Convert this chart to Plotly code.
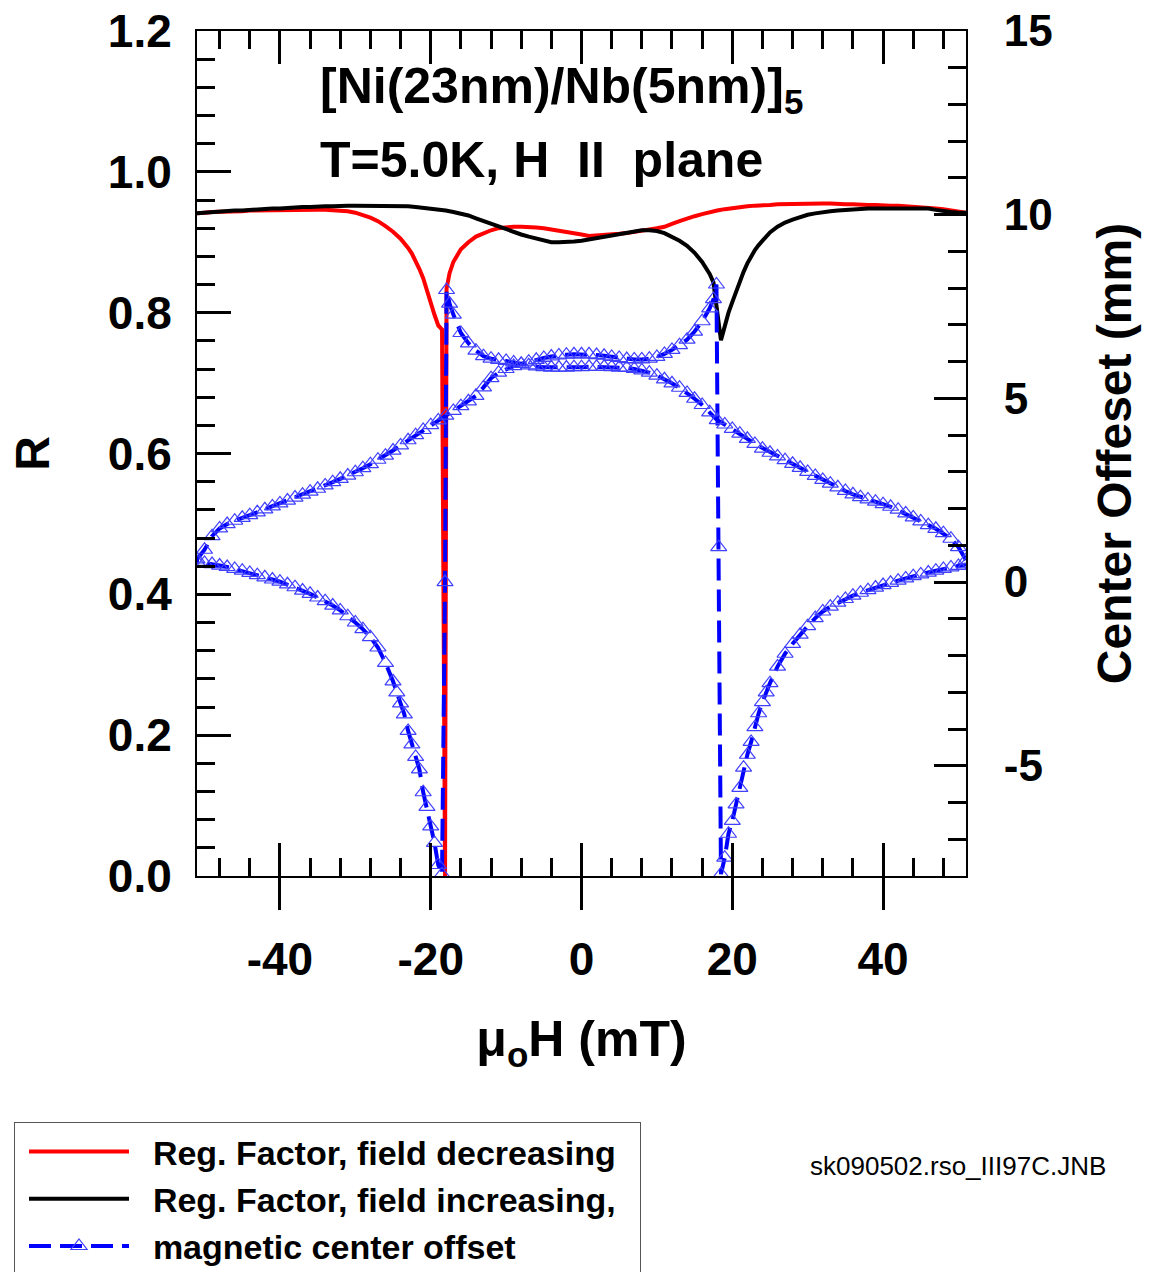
import plotly.graph_objects as go

# ---------------- data ----------------
# field decreasing branch (from +51 mT down to -51 mT)
H_dec = [51, 50, 49, 48, 47, 46, 45, 44, 43, 42, 41, 40, 39, 38, 37, 36, 35, 34, 33, 32,
         31, 30, 29, 28, 27, 26, 25, 24, 23, 22, 21, 20, 19, 18, 17, 16, 15, 14, 13, 12,
         11, 10, 9, 8, 7, 6, 5, 4, 3, 2, 1, 0, -1, -2, -3, -4, -5, -6, -7, -8,
         -9, -10, -11, -12, -13, -14, -15, -16, -17, -17.5, -17.9, -18.1, -18.5,
         -19, -19.5, -20, -20.5, -21, -21.5, -22, -22.5, -23, -23.5, -24, -24.5, -25,
         -26, -27, -28, -29, -30, -31, -32, -33, -34, -35, -36, -37, -38, -39, -40,
         -41, -42, -43, -44, -45, -46, -47, -48, -49, -50, -51]
R_dec = [0.942, 0.944, 0.946, 0.947, 0.948, 0.949, 0.950, 0.951, 0.951, 0.952, 0.952, 0.953,
         0.953, 0.953, 0.954, 0.954, 0.954, 0.955, 0.955, 0.955, 0.955, 0.955, 0.955, 0.955,
         0.954, 0.954, 0.953, 0.953, 0.952, 0.951, 0.950, 0.949, 0.947, 0.945, 0.943, 0.940,
         0.937, 0.934, 0.930, 0.926, 0.922, 0.920, 0.918, 0.916, 0.914, 0.913, 0.912, 0.911,
         0.910, 0.909, 0.909, 0.911, 0.913, 0.915, 0.917, 0.919, 0.920, 0.921, 0.922, 0.922,
         0.922, 0.921, 0.920, 0.917, 0.913, 0.908, 0.900, 0.890, 0.872, 0.856, 0.834, 0.000,
         0.776, 0.782, 0.797, 0.815, 0.833, 0.849, 0.862, 0.874, 0.884, 0.892, 0.899, 0.905,
         0.910, 0.915, 0.923, 0.930, 0.935, 0.939, 0.942, 0.944, 0.945, 0.946, 0.946, 0.946,
         0.946, 0.946, 0.946, 0.946, 0.945, 0.945, 0.945, 0.945, 0.945, 0.944, 0.944, 0.944,
         0.943, 0.943, 0.942, 0.941]
C_dec = [0.60, 0.95, 1.18, 1.33, 1.45, 1.55, 1.65, 1.76, 1.87, 1.97, 2.05, 2.12, 2.19, 2.25,
         2.31, 2.39, 2.48, 2.58, 2.68, 2.78, 2.89, 3.00, 3.11, 3.22, 3.32, 3.42, 3.52, 3.63,
         3.76, 3.90, 4.04, 4.17, 4.29, 4.41, 4.62, 4.82, 4.99, 5.15, 5.29, 5.41, 5.52, 5.62,
         5.70, 5.76, 5.80, 5.83, 5.84, 5.85, 5.86, 5.86, 5.86, 5.85, 5.85, 5.84, 5.84, 5.84,
         5.85, 5.87, 5.90, 5.94, 5.98, 6.02, 6.05, 6.08, 6.15, 6.30, 6.50, 6.78, 7.28, 7.58,
         7.95, 0.00, -7.95, -7.70, -7.10, -6.65, -6.12, -5.72, -5.10, -4.76, -4.42, -4.05,
         -3.60, -3.30, -3.00, -2.70, -2.20, -1.78, -1.50, -1.28, -1.10, -0.93, -0.77, -0.64,
         -0.52, -0.42, -0.32, -0.23, -0.14, -0.06, 0.01, 0.07, 0.13, 0.19, 0.25, 0.31, 0.36,
         0.41, 0.45, 0.49, 0.52, 0.55]

# field increasing branch (from -51 mT up to +51 mT)
H_inc = [-51, -50, -49, -48, -47, -46, -45, -44, -43, -42, -41, -40, -39, -38, -37, -36,
         -35, -34, -33, -32, -31, -30, -29, -28, -27, -26, -25, -24, -23, -22, -21, -20,
         -19, -18, -17, -16, -15, -14, -13, -12, -11, -10, -9, -8, -7, -6, -5, -4, -3, -2,
         -1, 0, 1, 2, 3, 4, 5, 6, 7, 8, 9, 10, 11, 12, 13, 14, 15, 16, 17, 17.5, 17.9,
         18.2, 18.5, 19, 19.5, 20, 20.5, 21, 21.5, 22, 22.5, 23, 23.5, 24, 24.5, 25,
         26, 27, 28, 29, 30, 31, 32, 33, 34, 35, 36, 37, 38, 39, 40, 41, 42, 43, 44, 45,
         46, 47, 48, 49, 50, 51]
R_inc = [0.941, 0.942, 0.943, 0.944, 0.944, 0.945, 0.945, 0.946, 0.946, 0.947, 0.948, 0.948,
         0.949, 0.949, 0.950, 0.950, 0.951, 0.951, 0.951, 0.952, 0.952, 0.952, 0.952, 0.952,
         0.952, 0.952, 0.952, 0.951, 0.951, 0.950, 0.949, 0.948, 0.947, 0.945, 0.943, 0.941,
         0.938, 0.934, 0.930, 0.926, 0.922, 0.918, 0.914, 0.911, 0.908, 0.905, 0.902, 0.900,
         0.900, 0.900, 0.901, 0.902, 0.904, 0.906, 0.908, 0.910, 0.912, 0.914, 0.916, 0.917,
         0.917, 0.916, 0.913, 0.908, 0.902, 0.895, 0.885, 0.872, 0.855, 0.843, 0.815, 0.785,
         0.761, 0.782, 0.800, 0.815, 0.830, 0.845, 0.858, 0.870, 0.880, 0.889, 0.896, 0.902,
         0.908, 0.914, 0.922, 0.928, 0.932, 0.936, 0.939, 0.941, 0.943, 0.944, 0.945, 0.946,
         0.947, 0.947, 0.948, 0.948, 0.948, 0.949, 0.949, 0.949, 0.949, 0.949, 0.948, 0.946,
         0.944, 0.943, 0.942, 0.942]
C_inc = [0.62, 0.88, 1.25, 1.46, 1.58, 1.67, 1.75, 1.82, 1.90, 1.98, 2.06, 2.14, 2.22, 2.30,
         2.38, 2.46, 2.54, 2.63, 2.72, 2.81, 2.90, 2.99, 3.10, 3.21, 3.33, 3.44, 3.58, 3.72,
         3.86, 4.00, 4.14, 4.27, 4.40, 4.53, 4.66, 4.79, 4.92, 5.07, 5.30, 5.55, 5.70, 5.80,
         5.88, 5.94, 6.00, 6.05, 6.10, 6.14, 6.17, 6.19, 6.20, 6.20, 6.20, 6.18, 6.16, 6.13,
         6.10, 6.07, 6.06, 6.06, 6.08, 6.13, 6.21, 6.32, 6.45, 6.60, 6.82, 7.10, 7.45, 7.70,
         8.10, 0.95, -7.95, -7.50, -6.85, -6.50, -6.05, -5.60, -5.05, -4.70, -4.35, -3.95,
         -3.57, -3.27, -3.00, -2.75, -2.30, -1.95, -1.68, -1.43, -1.20, -0.98, -0.80, -0.67,
         -0.56, -0.46, -0.37, -0.29, -0.22, -0.15, -0.08, -0.02, 0.04, 0.10, 0.16, 0.21, 0.26,
         0.31, 0.36, 0.40, 0.44, 0.48]

for a, b in [(H_dec, R_dec), (H_dec, C_dec), (H_inc, R_inc), (H_inc, C_inc)]:
    assert len(a) == len(b), (len(a), len(b))

# tick labels
X_TICKS = [-40, -20, 0, 20, 40]
X_TICKTEXT = ["-40", "-20", "0", "20", "40"]
Y2_TICKS = [-5, 0, 5, 10, 15]
Y2_TICKTEXT = ["-5", "0", "5", "10", "15"]

# labels
NAME_DEC = "Reg. Factor, field decreasing"
NAME_INC = "Reg. Factor, field increasing,"
NAME_OFF = "magnetic center offset"
X_TITLE = "\u03bc<sub>o</sub>H (mT)"
Y_TITLE = "R"
Y2_TITLE = "Center Offeset (mm)"
LINE1 = "[Ni(23nm)/Nb(5nm)]<sub>5</sub>"
LINE2 = "T=5.0K, H\u00a0\u00a0II\u00a0\u00a0plane"
FILE_TAG = "sk090502.rso_III97C.JNB"

FONT = "Arial, 'Liberation Sans', sans-serif"
BOLD = dict(family=FONT, color="black", weight="bold")
GAP = "\u00a0\u00a0"  # gap between legend symbol and legend text

fig = go.Figure()
fig.add_trace(go.Scatter(x=H_dec, y=R_dec, mode="lines", name=GAP + NAME_DEC,
                         line=dict(color="#ff0000", width=4)))
fig.add_trace(go.Scatter(x=H_inc, y=R_inc, mode="lines", name=GAP + NAME_INC + GAP,
                         line=dict(color="#000000", width=4)))
fig.add_trace(go.Scatter(x=H_dec + H_inc, y=C_dec + C_inc, mode="lines+markers",
                         name=GAP + NAME_OFF, xaxis="x2", yaxis="y2",
                         line=dict(color="#0000ff", width=4, dash="22px,9px"),
                         marker=dict(symbol="triangle-up-open", size=14, color="#4040ff",
                                     line=dict(width=1.2))))

L, R_, T, B = 197, 966, 31, 876
W, HGT = 1150, 1272
pw, ph = R_ - L, B - T

def px(xp):
    return (xp - L) / pw

def py(yp):
    return (B - yp) / ph

common = dict(showgrid=False, zeroline=False, showline=True, linecolor="black",
              linewidth=2, tickcolor="black", tickwidth=3)

fig.update_layout(
    width=W, height=HGT,
    margin=dict(l=L, r=W - R_, t=T, b=HGT - B, autoexpand=False),
    paper_bgcolor="white", plot_bgcolor="white",
    showlegend=True,
    legend=dict(x=px(14), y=py(1122), xanchor="left", yanchor="top",
                bordercolor="#555555", borderwidth=1, bgcolor="white",
                font=dict(size=34, **BOLD), itemwidth=100, tracegroupgap=0,
                indentation=9),
    xaxis=dict(range=[-51, 51], tickmode="array", tickvals=X_TICKS, ticktext=X_TICKTEXT,
               ticks="outside", ticklen=32, ticklabelstandoff=10,
               tickfont=dict(size=46, **BOLD),
               title=dict(text=X_TITLE, font=dict(size=50, **BOLD), standoff=37),
               **common),
    xaxis2=dict(range=[-51, 51], overlaying="x", anchor="y", side="bottom",
                tickmode="linear", tick0=0, dtick=20, ticks="inside", ticklen=33,
                showticklabels=False, mirror="ticks",
                minor=dict(ticks="inside", dtick=4, tick0=0, ticklen=18,
                           tickwidth=3, tickcolor="black"),
                **common),
    yaxis=dict(range=[0, 1.2], tickmode="linear", tick0=0, dtick=0.2,
               tickformat=".1f", ticks="inside", ticklen=34, ticklabelstandoff=14,
               tickfont=dict(size=46, **BOLD),
               minor=dict(ticks="inside", dtick=0.04, tick0=0, ticklen=18,
                          tickwidth=3, tickcolor="black"),
               title=dict(text=Y_TITLE, font=dict(size=48, **BOLD), standoff=43),
               **common),
    yaxis2=dict(range=[-8, 15], overlaying="y", side="right", anchor="x",
                tickmode="array", tickvals=Y2_TICKS, ticktext=Y2_TICKTEXT,
                ticks="inside", ticklen=32, ticklabelstandoff=27,
                tickfont=dict(size=44, **BOLD),
                minor=dict(ticks="inside", dtick=1, tick0=0, ticklen=18,
                           tickwidth=3, tickcolor="black"),
                title=dict(text=Y2_TITLE, font=dict(size=48, **BOLD), standoff=46),
                **common),
    annotations=[
        dict(text=LINE1, x=px(318), y=py(89), xref="paper", yref="paper",
             xanchor="left", yanchor="middle", showarrow=False,
             font=dict(size=50, **BOLD)),
        dict(text=LINE2, x=px(318), y=py(160), xref="paper", yref="paper",
             xanchor="left", yanchor="middle", showarrow=False,
             font=dict(size=50, **BOLD)),
        dict(text=FILE_TAG, x=px(808), y=py(1166), xref="paper", yref="paper",
             xanchor="left", yanchor="middle", showarrow=False,
             font=dict(size=26, family=FONT, color="black")),
    ],
)

fig.write_html("out.html")
